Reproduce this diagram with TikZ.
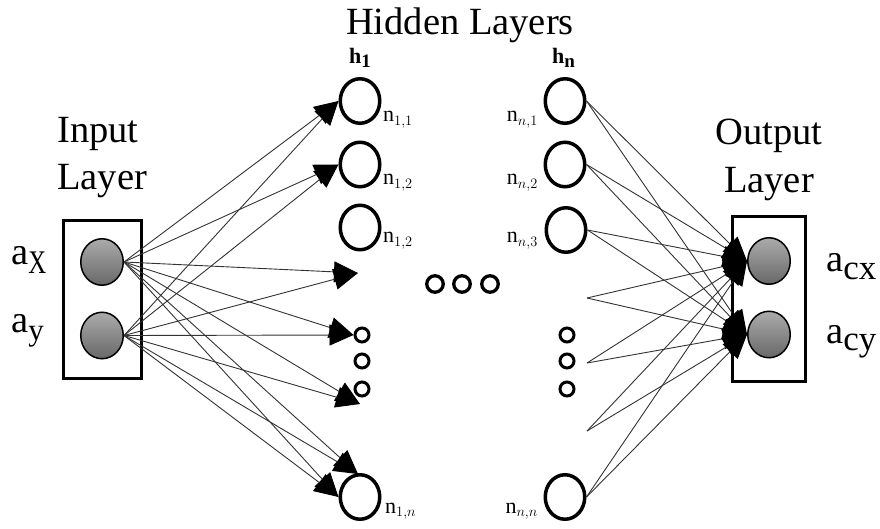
\documentclass[tikz,border=0pt]{standalone}
\usepackage{graphicx}
\usepackage{fontspec}
\setmainfont{Liberation Serif}
\usetikzlibrary{arrows.meta,shapes.geometric}

\definecolor{unitTop}{HTML}{ABABAB}
\definecolor{unitBot}{HTML}{686868}
\definecolor{wireGray}{HTML}{333333}

\begin{document}
\begin{tikzpicture}[x=1pt,y=-1pt,
  hid/.style={draw, line width=3.5pt, ellipse, minimum width=39.5pt, minimum height=44.5pt, inner sep=0pt, fill=white},
  tiny/.style={draw, line width=3pt, circle, minimum size=14pt, inner sep=0pt, fill=white},
  gapdot/.style={draw, line width=3.3pt, circle, minimum size=16.5pt, inner sep=0pt},
  unit/.style={draw, line width=1.5pt, ellipse, minimum width=42.5pt, minimum height=46.5pt, inner sep=0pt, top color=unitTop, bottom color=unitBot},
  frame/.style={draw, line width=3pt, inner sep=0pt},
  wire/.style={draw=wireGray, line width=0.9pt, -{Triangle[length=24pt,width=21pt,color=black]}},
  big/.style={font=\fontsize{38.5}{47}\selectfont, inner sep=0pt},
  lbl/.style={font=\fontsize{22}{22}\selectfont, inner sep=0pt}
]
\useasboundingbox (0,0) rectangle (880,529);

% titles
\node[big, anchor=base] (title) at (460,35) {Hidden Layers};
\node[big, anchor=base west] (inA) at (57,143) {Input};
\node[big, anchor=base west] (inB) at (57,190) {Layer};
\node[big, anchor=base] (outA) at (769,145) {Output};
\node[big, anchor=base] (outB) at (769,193) {Layer};

% input layer
\node[frame, minimum width=78pt, minimum height=158pt] (inbox) at (102.5,299.5) {};
\node[unit] (ax) at (102,262) {};
\node[unit] (ay) at (102,335.5) {};
\node[big, anchor=base west] (lax) at (11,265) {a\raisebox{-9pt}{\scalebox{0.75}[1]{\fontsize{33}{33}\selectfont X}}};
\node[big, anchor=base west] (lay) at (11,332) {a\raisebox{-8.5pt}{\fontsize{31}{31}\selectfont y}};

% output layer
\node[frame, minimum width=73pt, minimum height=165pt] (outbox) at (769,299) {};
\node[unit] (cx) at (769,261) {};
\node[unit] (cy) at (769,334.5) {};
\node[big, anchor=base west] (lcx) at (826,272) {a\raisebox{-7pt}{\fontsize{35}{35}\selectfont cx}};
\node[big, anchor=base west] (lcy) at (826,343) {a\raisebox{-7pt}{\fontsize{35}{35}\selectfont cy}};

% first hidden layer
\node[anchor=base west, inner sep=0pt, font=\fontsize{22}{22}\selectfont] (h1) at (349,64) {\textbf{h}\raisebox{-4pt}{\fontsize{19}{19}\selectfont\textbf{1}}};
\node[hid] (a1) at (360,101) {};
\node[hid] (a2) at (360,164.5) {};
\node[hid] (a3) at (360,227.5) {};
\node[tiny] (s1) at (362,335) {};
\node[tiny] (s2) at (362,361) {};
\node[tiny] (s3) at (362,389) {};
\node[hid] (an) at (360,497) {};
\node[lbl, anchor=base west] (la1) at (383,122) {$\mathrm{n}_{1,1}$};
\node[lbl, anchor=base west] (la2) at (383,185) {$\mathrm{n}_{1,2}$};
\node[lbl, anchor=base west] (la3) at (383,243) {$\mathrm{n}_{1,2}$};
\node[lbl, anchor=base west] (lan) at (385,513) {$\mathrm{n}_{1,n}$};

% last hidden layer
\node[anchor=base west, inner sep=0pt, font=\fontsize{22}{22}\selectfont] (hn) at (552,64) {\textbf{h}\raisebox{-4pt}{\fontsize{19}{19}\selectfont\textbf{n}}};
\node[hid] (b1) at (565,101) {};
\node[hid] (b2) at (565,164.5) {};
\node[hid] (b3) at (566,230) {};
\node[tiny] (r1) at (567,335) {};
\node[tiny] (r2) at (567,361) {};
\node[tiny] (r3) at (567,389) {};
\node[hid] (bn) at (565,497) {};
\node[lbl, anchor=base east] (lb1) at (538,122) {$\mathrm{n}_{n,1}$};
\node[lbl, anchor=base east] (lb2) at (538,185) {$\mathrm{n}_{n,2}$};
\node[lbl, anchor=base east] (lb3) at (538,243) {$\mathrm{n}_{n,3}$};
\node[lbl, anchor=base east] (lbn) at (538,513) {$\mathrm{n}_{n,n}$};

% layers in between
\node[gapdot] (g1) at (435,284) {};
\node[gapdot] (g2) at (462,284) {};
\node[gapdot] (g3) at (490,284) {};

% loose wire ends
\coordinate (t3) at (358,273);
\coordinate (t5) at (360,404);
\coordinate (t6) at (358,474);
\coordinate (u4) at (587,298);
\coordinate (u5) at (587,363);
\coordinate (u6) at (587,431);

% input -> first hidden layer
\foreach \src in {ax,ay}{
  \draw[wire] (\src.east) -- (a1.west);
  \draw[wire] (\src.east) -- (a2.west);
  \draw[wire] (\src.east) -- (t3);
  \draw[wire] (\src.east) -- (s1.west);
  \draw[wire] (\src.east) -- (t5);
  \draw[wire] (\src.east) -- (t6);
  \draw[wire] (\src.east) -- (an.west);
}

% last hidden layer -> output
\foreach \dst in {cx,cy}{
  \draw[wire] (b1.east) -- (\dst.west);
  \draw[wire] (b2.east) -- (\dst.west);
  \draw[wire] (b3.east) -- (\dst.west);
  \draw[wire] (u4) -- (\dst.west);
  \draw[wire] (u5) -- (\dst.west);
  \draw[wire] (u6) -- (\dst.west);
  \draw[wire] (bn.east) -- (\dst.west);
}
\end{tikzpicture}
\end{document}
